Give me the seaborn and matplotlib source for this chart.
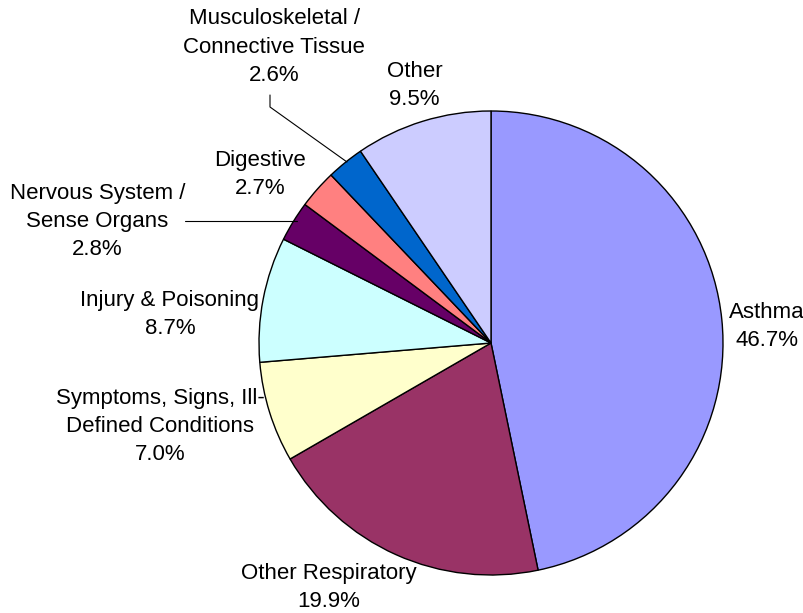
import matplotlib
matplotlib.use("Agg")
import matplotlib.pyplot as plt
import seaborn as sns
import numpy as np

sns.set_theme(style="white")
plt.rcParams['font.family'] = ['Liberation Sans', 'DejaVu Sans']

categories = ["Asthma", "Other Respiratory", "Symptoms, Signs, Ill-\nDefined Conditions",
              "Injury & Poisoning", "Nervous System /\nSense Organs", "Digestive",
              "Musculoskeletal /\nConnective Tissue", "Other"]
values = [46.7, 19.9, 7.0, 8.7, 2.8, 2.7, 2.6, 9.5]
colors = ["#9999FF", "#993366", "#FFFFCC", "#CCFFFF", "#660066", "#FF8080", "#0066CC", "#CCCCFF"]

# label centres (in units of pie radius, relative to centre)
label_pos = [(1.190, 0.070), (-0.700, -1.055), (-1.427, -0.360), (-1.384, 0.122),
             (-1.696, 0.525), (-0.994, 0.725), (-0.935, 1.275), (-0.330, 1.110)]

W, H = 804, 613
cx, cy, R = 491, 343, 232
fig = plt.figure(figsize=(W / 100, H / 100), dpi=100)
ax = fig.add_axes([(cx - R) / W, (H - cy - R) / H, 2 * R / W, 2 * R / H])
ax.pie(values, colors=colors, startangle=90, counterclock=False,
       wedgeprops=dict(edgecolor="black", linewidth=1.0))
ax.set_xlim(-1, 1)
ax.set_ylim(-1, 1)
ax.set_aspect("equal")
ax.axis("off")

for cat, v, (x, y) in zip(categories, values, label_pos):
    ax.text(x, y, f"{cat}\n{v:.1f}%", ha="center", va="center", fontsize=16,
            color="black", linespacing=1.45, clip_on=False)

def px(xp, yp):
    return ((xp - cx) / R, (cy - yp) / R)

# leader lines
p = [px(270, 95), px(270, 107), px(347, 162)]
ax.plot([q[0] for q in p], [q[1] for q in p], color="black", lw=0.8, clip_on=False)
p = [px(185, 221), px(297, 221)]
ax.plot([q[0] for q in p], [q[1] for q in p], color="black", lw=0.8, clip_on=False)

fig.savefig("out.png", dpi=100)
